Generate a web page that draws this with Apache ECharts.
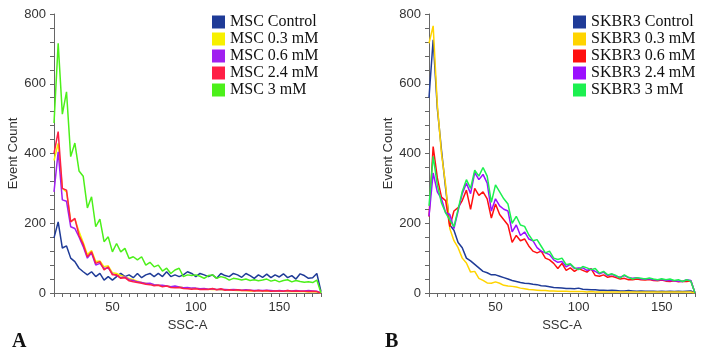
<!DOCTYPE html>
<html>
<head>
<meta charset="utf-8">
<script src="https://cdn.jsdelivr.net/npm/echarts@6/dist/echarts.min.js"></script>
<style>
  body { margin: 0; background: #fff; }
  #main { width: 701px; height: 355px; }
</style>
</head>
<body>
<div id="main"></div>
<script>
// bin positions (SSC-A)
const xMsc = [15, 17.5, 20, 22.5, 25, 27.5, 30, 32.5, 35, 37.5, 40, 42.5, 45, 47.5, 50, 52.5, 55, 57.5, 60, 62.5, 65, 67.5, 70, 72.5, 75, 77.5, 80, 82.5, 85, 87.5, 90, 92.5, 95, 97.5, 100, 102.5, 105, 107.5, 110, 112.5, 115, 117.5, 120, 122.5, 125, 127.5, 130, 132.5, 135, 137.5, 140, 142.5, 145, 147.5, 150, 152.5, 155, 157.5, 160, 162.5, 165, 167.5, 170, 172.5, 175];
const xSkbr = [10, 12.5, 15, 17.5, 20, 22.5, 25, 27.5, 30, 32.5, 35, 37.5, 40, 42.5, 45, 47.5, 50, 52.5, 55, 57.5, 60, 62.5, 65, 67.5, 70, 72.5, 75, 77.5, 80, 82.5, 85, 87.5, 90, 92.5, 95, 97.5, 100, 102.5, 105, 107.5, 110, 112.5, 115, 117.5, 120, 122.5, 125, 127.5, 130, 132.5, 135, 137.5, 140, 142.5, 145, 147.5, 150, 152.5, 155, 157.5, 160, 162.5, 165, 167.5, 170];

// panel A - MSC
const mscControl = [158, 204, 129, 135, 100, 90, 71, 61, 52, 61, 47, 56, 37, 47, 37, 47, 56, 47, 52, 44, 56, 44, 52, 56, 47, 56, 47, 61, 47, 52, 47, 52, 61, 56, 47, 56, 52, 47, 52, 42, 56, 50, 47, 56, 52, 45, 56, 50, 42, 52, 45, 54, 44, 52, 46, 55, 44, 50, 40, 55, 50, 42, 44, 56, 4];
const msc03 = [380, 429, 300, 290, 205, 212, 176, 145, 110, 122, 90, 92, 75, 78, 58, 56, 50, 46, 42, 38, 34, 30, 28, 26, 24, 22, 20, 20, 18, 17, 18, 15, 14, 13, 13, 12, 11, 11, 10, 10, 9, 9, 8, 8, 7, 8, 7, 6, 6, 7, 6, 5, 5, 6, 5, 5, 4, 5, 4, 4, 4, 3, 4, 3, 0];
const msc06 = [290, 405, 267, 263, 190, 185, 161, 133, 100, 115, 80, 85, 70, 72, 55, 50, 44, 46, 38, 36, 32, 30, 27, 28, 24, 22, 22, 20, 18, 20, 17, 15, 16, 14, 14, 12, 13, 11, 12, 10, 11, 10, 9, 10, 9, 8, 9, 8, 7, 8, 7, 8, 7, 6, 7, 6, 7, 6, 7, 6, 6, 7, 6, 5, 0];
const msc24 = [400, 463, 300, 295, 204, 214, 165, 140, 104, 118, 85, 90, 66, 75, 52, 52, 42, 44, 35, 32, 30, 28, 25, 24, 21, 22, 18, 20, 16, 15, 16, 13, 12, 11, 12, 10, 11, 10, 13, 9, 12, 8, 9, 8, 9, 7, 7, 8, 6, 7, 6, 7, 5, 6, 6, 5, 7, 5, 6, 5, 5, 4, 5, 4, 0];
const msc3 = [487, 716, 513, 577, 391, 430, 350, 335, 244, 276, 190, 212, 147, 161, 118, 142, 118, 128, 99, 104, 95, 104, 80, 88, 75, 80, 63, 71, 56, 66, 71, 47, 52, 50, 52, 48, 42, 50, 52, 42, 47, 44, 37, 42, 40, 37, 40, 36, 38, 35, 37, 40, 34, 37, 32, 36, 38, 32, 36, 33, 31, 32, 30, 37, 0];

// panel B - SKBR3
const skbrControl = [560, 726, 530, 410, 300, 195, 180, 145, 130, 100, 92, 82, 72, 62, 58, 52, 52, 48, 44, 40, 36, 33, 30, 28, 27, 25, 24, 21, 20, 18, 16, 15, 14, 13, 13, 12, 14, 11, 10, 9, 9, 8, 8, 7, 8, 7, 6, 6, 7, 6, 5, 6, 5, 5, 5, 4, 5, 4, 5, 4, 5, 4, 5, 6, 0];
const skbr03 = [716, 766, 540, 400, 310, 185, 150, 130, 100, 86, 60, 62, 42, 36, 29, 28, 32, 28, 22, 20, 19, 17, 14, 12, 10, 9, 8, 7, 7, 6, 6, 5, 5, 5, 4, 4, 4, 4, 3, 4, 3, 3, 3, 3, 3, 3, 3, 3, 3, 3, 3, 3, 3, 3, 3, 3, 3, 3, 3, 3, 3, 3, 3, 3, 0];
const skbr06 = [219, 420, 330, 275, 265, 190, 235, 245, 265, 295, 240, 300, 280, 290, 270, 215, 255, 225, 210, 195, 145, 165, 150, 155, 135, 120, 115, 120, 100, 95, 85, 70, 85, 65, 72, 62, 70, 65, 60, 70, 50, 48, 52, 45, 48, 44, 40, 42, 38, 38, 40, 38, 37, 39, 36, 35, 37, 34, 33, 35, 32, 34, 33, 35, 0];
const skbr24 = [220, 344, 290, 270, 230, 225, 185, 235, 285, 315, 285, 345, 325, 340, 315, 235, 270, 250, 240, 235, 175, 195, 165, 175, 155, 150, 130, 120, 115, 110, 95, 88, 90, 75, 82, 70, 72, 72, 65, 68, 62, 55, 60, 50, 54, 48, 45, 50, 44, 42, 44, 40, 41, 40, 38, 37, 39, 36, 36, 35, 34, 33, 38, 36, 0];
const skbr3 = [250, 392, 310, 258, 230, 210, 190, 240, 291, 325, 300, 352, 335, 360, 335, 260, 310, 290, 270, 255, 200, 220, 195, 191, 167, 150, 153, 134, 115, 120, 100, 96, 100, 81, 84, 72, 67, 76, 72, 67, 70, 57, 62, 52, 55, 50, 43, 52, 45, 40, 44, 42, 40, 43, 40, 38, 41, 38, 40, 36, 38, 33, 38, 34, 0];

const yLabels = [0, 200, 400, 600, 800];
const xLabels = [50, 100, 150];

function pairs(xs, ys) {
  let out = [];
  for (let i = 0; i < xs.length; i++) out.push([xs[i], ys[i]]);
  return out;
}

// minor tick positions
let yTicks = [];
for (let v = 0; v <= 800; v += 40) yTicks.push(v);
let xTicksA = [], xTicksB = [];
for (let v = 15; v <= 175; v += 5) xTicksA.push(v);
for (let v = 10; v <= 170; v += 5) xTicksB.push(v);

const labelFont = { fontFamily: 'Liberation Sans', fontSize: 13, color: '#333' };
const axisLine = { lineStyle: { color: '#666', width: 1 } };

function xAxisFor(grid, min, max, ticks) {
  return {
    type: 'value', gridIndex: grid, min: min, max: max,
    name: 'SSC-A', nameLocation: 'middle', nameGap: 26, nameTextStyle: labelFont,
    axisLine: axisLine,
    axisTick: { show: true, length: 4, lineStyle: { color: '#666' }, customValues: ticks },
    axisLabel: Object.assign({ margin: 8, customValues: xLabels }, labelFont),
    splitLine: { show: false }
  };
}
function yAxisFor(grid) {
  return {
    type: 'value', gridIndex: grid, min: 0, max: 800,
    name: 'Event Count', nameLocation: 'middle', nameGap: 32, nameTextStyle: labelFont,
    axisLine: Object.assign({ show: true }, axisLine),
    axisTick: { show: true, length: 4, lineStyle: { color: '#666' }, customValues: yTicks },
    axisLabel: Object.assign({ margin: 8, customValues: yLabels }, labelFont),
    splitLine: { show: false }
  };
}

function line(name, idx, xs, ys, color) {
  return {
    name: name, type: 'line', xAxisIndex: idx, yAxisIndex: idx,
    data: pairs(xs, ys), showSymbol: false, symbol: 'none',
    lineStyle: { width: 1.5, color: color }, itemStyle: { color: color },
    animation: false
  };
}

const legendText = { fontFamily: 'Liberation Serif', fontSize: 16, color: '#111' };

var myChart = echarts.init(document.getElementById('main'));

var option = {
  backgroundColor: '#fff',
  animation: false,
  grid: [
    { left: 54, top: 14, width: 267, height: 279 },
    { left: 429, top: 14, width: 266, height: 279 }
  ],
  xAxis: [xAxisFor(0, 15, 175, xTicksA), xAxisFor(1, 10, 170, xTicksB)],
  yAxis: [yAxisFor(0), yAxisFor(1)],
  legend: [
    {
      left: 207, top: 9, orient: 'vertical', itemWidth: 13, itemHeight: 13, itemGap: 1,
      icon: 'rect', textStyle: legendText,
      data: ['MSC Control', 'MSC 0.3 mM', 'MSC 0.6 mM', 'MSC 2.4 mM', 'MSC 3 mM']
    },
    {
      left: 568, top: 9, orient: 'vertical', itemWidth: 13, itemHeight: 13, itemGap: 1,
      icon: 'rect', textStyle: legendText,
      data: ['SKBR3 Control', 'SKBR3 0.3 mM', 'SKBR3 0.6 mM', 'SKBR3 2.4 mM', 'SKBR3 3 mM']
    }
  ],
  graphic: [
    { type: 'text', left: 12, top: 332, style: { text: 'A', font: 'bold 20px "Liberation Serif"', fill: '#111' } },
    { type: 'text', left: 385, top: 332, style: { text: 'B', font: 'bold 20px "Liberation Serif"', fill: '#111' } }
  ],
  series: [
    line('MSC Control', 0, xMsc, mscControl, '#1f3b97'),
    line('MSC 0.3 mM', 0, xMsc, msc03, '#f7f000'),
    line('MSC 0.6 mM', 0, xMsc, msc06, '#a020f0'),
    line('MSC 2.4 mM', 0, xMsc, msc24, '#ff1f45'),
    line('MSC 3 mM', 0, xMsc, msc3, '#4cf01a'),
    line('SKBR3 Control', 1, xSkbr, skbrControl, '#1f3b97'),
    line('SKBR3 0.3 mM', 1, xSkbr, skbr03, '#ffd400'),
    line('SKBR3 0.6 mM', 1, xSkbr, skbr06, '#ff1010'),
    line('SKBR3 2.4 mM', 1, xSkbr, skbr24, '#9b10ff'),
    line('SKBR3 3 mM', 1, xSkbr, skbr3, '#1cf050')
  ]
};

myChart.setOption(option);
</script>
</body>
</html>
